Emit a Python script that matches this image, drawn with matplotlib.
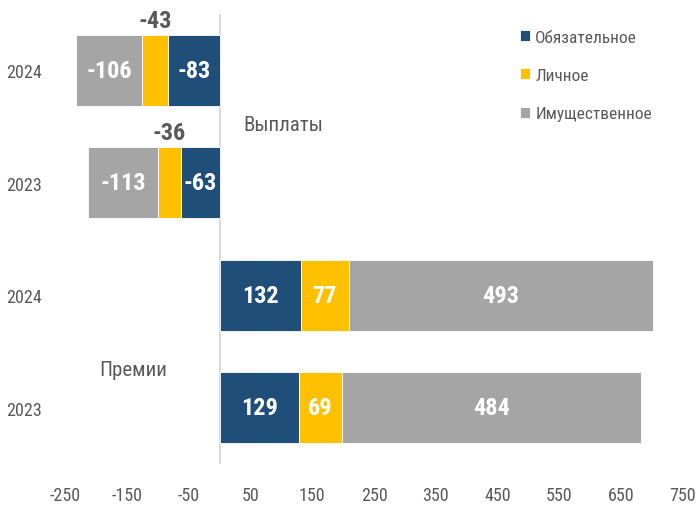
import matplotlib
matplotlib.use("Agg")
import matplotlib.pyplot as plt
import numpy as np

plt.rcParams["font.family"] = ["Roboto Condensed", "Liberation Sans Narrow", "Roboto", "DejaVu Sans"]

# rows from top to bottom
row_labels = ["2024", "2023", "2024", "2023"]
categories = ["Обязательное", "Личное", "Имущественное"]
colors = ["#1F4E79", "#FFC000", "#A5A5A5"]

# payouts (negative) and premiums, per category
mandatory = [-83, -63, 132, 129]
personal = [-43, -36, 77, 69]
property_ = [-106, -113, 493, 484]
series = [mandatory, personal, property_]

x_ticks = [-250, -150, -50, 50, 150, 250, 350, 450, 550, 650, 750]

fig = plt.figure(figsize=(7.0, 5.06), dpi=100)
ax = fig.add_axes([65 / 700, 1 - 465 / 506, 618 / 700, 450 / 506])

y = np.arange(len(row_labels))[::-1]  # 3, 2, 1, 0
bar_h = 0.63
left = np.zeros(len(row_labels))
for name, vals, col in zip(categories, series, colors):
    vals = np.array(vals, dtype=float)
    ax.barh(y, vals, left=left, height=bar_h, color=col, label=name,
            edgecolor="white", linewidth=0.6)
    for yi, l, v in zip(y, left, vals):
        cx = l + v / 2
        if name == "Личное" and v < 0:
            # small payout segments: label above the bar
            ax.text(cx, yi + bar_h / 2 + 0.13, f"{int(v)}", ha="center", va="center",
                    fontsize=17.5, fontweight="bold", color="#595959")
        else:
            ax.text(cx, yi, f"{int(v)}", ha="center", va="center",
                    fontsize=17.5, fontweight="bold", color="white")
    left = left + vals

ax.set_xlim(-250, 750)
ax.set_ylim(-0.5, 3.5)
ax.set_xticks(x_ticks)
ax.set_xticklabels([str(t) for t in x_ticks])
ax.set_yticks(y)
ax.set_yticklabels(row_labels)
ax.tick_params(axis="both", length=0, labelsize=13, labelcolor="#595959")
ax.tick_params(axis="x", pad=16)
ax.tick_params(axis="y", pad=17)

for s in ax.spines.values():
    s.set_visible(False)
ax.axvline(0, color="#D9D9D9", linewidth=1.5, zorder=0)

ax.text(38, 2.52, "Выплаты", ha="left", va="center", fontsize=15, color="#595959")
ax.text(-140, 0.34, "Премии", ha="center", va="center", fontsize=15, color="#595959")

ax.legend(loc="upper right", bbox_to_anchor=(0.975, 1.0), frameon=False,
          fontsize=12.5, labelcolor="#595959", handlelength=0.6, handleheight=0.6,
          handletextpad=0.3, labelspacing=1.35)

fig.savefig("out.png", dpi=100)
